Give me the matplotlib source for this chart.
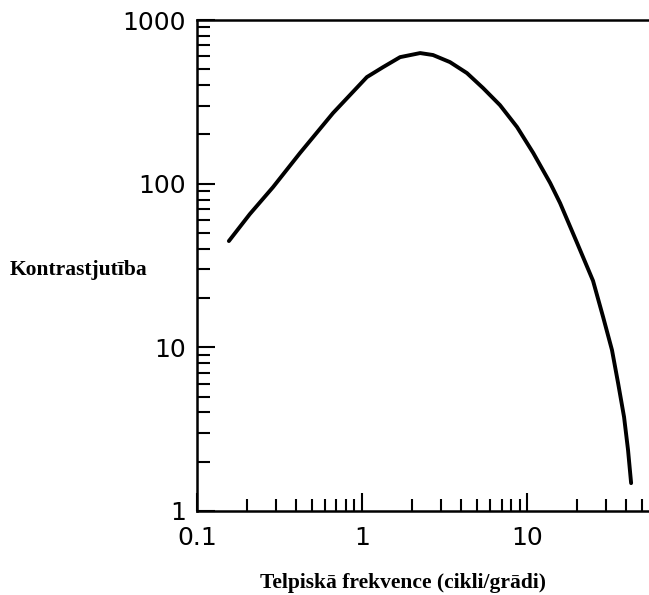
import matplotlib
matplotlib.use("Agg")
import matplotlib.pyplot as plt
from matplotlib.ticker import LogLocator, NullFormatter, FixedLocator, FixedFormatter

# contrast sensitivity curve
freq = [0.156, 0.209, 0.289, 0.421, 0.667, 1.07, 1.34, 1.70, 2.25, 2.69,
        3.41, 4.32, 5.41, 6.85, 8.69, 10.9, 13.8, 15.85, 20.1, 25.1,
        28.9, 32.7, 35.6, 38.7, 40.9, 42.7]
sens = [44.6, 65.2, 95.3, 154, 270, 448, 515, 593, 628, 611,
        553, 474, 384, 302, 222, 154, 101, 76.1, 43.4, 25.5,
        15.3, 9.62, 6.05, 3.75, 2.36, 1.48]

x_ticks = [0.1, 1, 10]
x_labels = ["0.1", "1", "10"]
y_ticks = [1, 10, 100, 1000]
y_labels = ["1", "10", "100", "1000"]

fig = plt.figure(figsize=(6.49, 5.95), dpi=100)
ax = fig.add_axes([197 / 649, 84 / 595, 452 / 649, 491 / 595])

ax.plot(freq, sens, color="black", lw=2.8, solid_capstyle="round", solid_joinstyle="round")

ax.set_xscale("log")
ax.set_yscale("log")
ax.set_xlim(0.1, 54.8)
ax.set_ylim(1, 1000)

ax.xaxis.set_major_locator(FixedLocator(x_ticks))
ax.xaxis.set_major_formatter(FixedFormatter(x_labels))
ax.yaxis.set_major_locator(FixedLocator(y_ticks))
ax.yaxis.set_major_formatter(FixedFormatter(y_labels))
for a in (ax.xaxis, ax.yaxis):
    a.set_minor_locator(LogLocator(base=10, subs=range(2, 10)))
    a.set_minor_formatter(NullFormatter())

ax.tick_params(which="both", direction="in", width=1.5, colors="black")
ax.tick_params(which="major", length=13)
ax.tick_params(which="minor", length=9)
ax.tick_params(axis="x", which="major", labelsize=18, pad=11)
ax.tick_params(axis="y", which="major", labelsize=18, pad=8)
for lab in ax.get_xticklabels() + ax.get_yticklabels():
    lab.set_family("DejaVu Sans")

ax.spines["right"].set_visible(False)
for s in ("left", "bottom", "top"):
    ax.spines[s].set_linewidth(1.8)

fig.text(10 / 649, 1 - 270 / 595, "Kontrastjutība", family="Liberation Serif",
         fontweight="bold", fontsize=15.5, ha="left", va="center")
fig.text(403 / 649, 1 - 583 / 595, "Telpiskā frekvence (cikli/grādi)",
         family="Liberation Serif", fontweight="bold", fontsize=15.5,
         ha="center", va="center")

fig.savefig("out.png", dpi=100)
